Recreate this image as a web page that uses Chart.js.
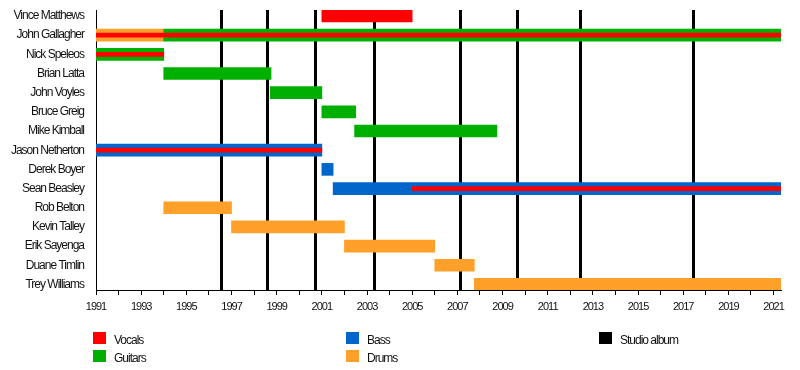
<!DOCTYPE html>
<html>
<head>
<meta charset="utf-8">
<script src="https://cdn.jsdelivr.net/npm/chart.js@4"></script>
<style>
  html, body { margin: 0; padding: 0; background: #fff; }
  #wrap { width: 800px; height: 370px; }
</style>
</head>
<body>
<div id="wrap"><canvas id="timeline"></canvas></div>
<script>
const FONT = "'Liberation Sans', Arial, sans-serif";
const START = 1991;
const END = 2021.33;

const members = [
  "Vince Matthews", "John Gallagher", "Nick Speleos", "Brian Latta", "John Voyles",
  "Bruce Greig", "Mike Kimball", "Jason Netherton", "Derek Boyer", "Sean Beasley",
  "Rob Belton", "Kevin Talley", "Erik Sayenga", "Duane Timlin", "Trey Williams"
];

// [member, from, to]
const vocals = [["Vince Matthews", 2001.0, 2005.0]];
const guitars = [
  ["John Gallagher", 1994.0, END],
  ["Nick Speleos", 1991.0, 1994.0],
  ["Brian Latta", 1994.0, 1998.75],
  ["John Voyles", 1998.72, 2001.0],
  ["Bruce Greig", 2001.0, 2002.5],
  ["Mike Kimball", 2002.45, 2008.75]
];
const bass = [
  ["Jason Netherton", 1991.0, 2001.0],
  ["Derek Boyer", 2001.0, 2001.5],
  ["Sean Beasley", 2001.5, END]
];
const drums = [
  ["John Gallagher", 1991.0, 1994.0],
  ["Rob Belton", 1994.0, 1997.0],
  ["Kevin Talley", 1997.0, 2002.0],
  ["Erik Sayenga", 2002.0, 2006.0],
  ["Duane Timlin", 2006.0, 2007.75],
  ["Trey Williams", 2007.75, END]
];
// vocals alongside another instrument (thin stripe)
const backingVocals = [
  ["John Gallagher", 1991.0, END],
  ["Nick Speleos", 1991.0, 1994.0],
  ["Jason Netherton", 1991.0, 2001.0],
  ["Sean Beasley", 2005.0, END]
];

const albums = [1996.54, 1998.55, 2000.7, 2003.31, 2007.13, 2009.65, 2012.44, 2017.44];

const colors = { Vocals: "#ff0000", Guitars: "#00b000", Bass: "#0066cc", Drums: "#ffa02a", "Studio album": "#000000" };
const legendCols = [["Vocals", "Guitars"], ["Bass", "Drums"], ["Studio album"]];

const toPoints = rows => rows.map(r => ({ x: [r[1], r[2]], y: members.indexOf(r[0]) }));
const bar = (label, rows, thick) => ({
  label, data: toPoints(rows), backgroundColor: colors[label],
  barThickness: thick, grouped: false, borderWidth: 0, borderSkipped: false
});

// the reference text is narrow, tighten it a bit
const tightText = {
  id: "tightText",
  beforeUpdate(chart) { chart.ctx.letterSpacing = "-1px"; },
  beforeDraw(chart) { chart.ctx.letterSpacing = "-1px"; }
};

// album lines go behind the bars
const albumLines = {
  id: "albumLines",
  beforeDatasetsDraw(chart) {
    const { ctx, chartArea, scales: { x } } = chart;
    ctx.save();
    ctx.strokeStyle = "#000";
    ctx.lineWidth = 3;
    albums.forEach(a => {
      const px = Math.round(x.getPixelForValue(a)) + 0.5;
      ctx.beginPath();
      ctx.moveTo(px, chartArea.top);
      ctx.lineTo(px, chartArea.bottom);
      ctx.stroke();
    });
    ctx.restore();
  }
};

const legendBox = {
  id: "legendBox",
  afterDraw(chart) {
    const ctx = chart.ctx;
    ctx.save();
    ctx.font = "12px " + FONT;
    ctx.textBaseline = "middle";
    legendCols.forEach((col, c) => {
      col.forEach((name, r) => {
        const x = 93 + c * 253, y = 332 + r * 18;
        ctx.fillStyle = colors[name];
        ctx.fillRect(x, y, 13, 12);
        ctx.fillStyle = "#111";
        ctx.fillText(name, x + 21, y + 8.5);
      });
    });
    ctx.restore();
  }
};

new Chart(document.getElementById("timeline"), {
  type: "bar",
  data: {
    datasets: [
      bar("Vocals", backingVocals, 4),
      bar("Vocals", vocals, 12),
      bar("Guitars", guitars, 12),
      bar("Bass", bass, 12),
      bar("Drums", drums, 12)
    ]
  },
  options: {
    indexAxis: "y",
    responsive: true, maintainAspectRatio: false,
    animation: false,
    layout: { padding: { top: 10, right: 19, bottom: 60, left: 0 } },
    plugins: { legend: { display: false }, tooltip: { enabled: false } },
    scales: {
      x: {
        type: "linear", min: START, max: END, offset: false,
        afterFit: s => { s.height = 20; },
        ticks: {
          stepSize: 1, includeBounds: false, autoSkip: false, maxRotation: 0,
          padding: 5, color: "#111", font: { family: FONT, size: 11 },
          callback: v => (v % 2 === 1 ? String(v) : "")
        },
        grid: { drawOnChartArea: false, offset: false, tickLength: 5, color: "#000" },
        border: { color: "#000", width: 1 }
      },
      y: {
        type: "linear", reverse: true, min: -0.31, max: 14.29, offset: false,
        afterFit: s => { s.width = 96; },
        afterBuildTicks: s => { s.ticks = members.map((m, i) => ({ value: i })); },
        ticks: {
          padding: 0, color: "#111", font: { family: FONT, size: 12 },
          callback: v => members[v]
        },
        grid: { display: false, offset: false, drawTicks: true, tickLength: 12 },
        border: { color: "#000", width: 1 }
      }
    }
  },
  plugins: [tightText, albumLines, legendBox]
});
</script>
</body>
</html>
